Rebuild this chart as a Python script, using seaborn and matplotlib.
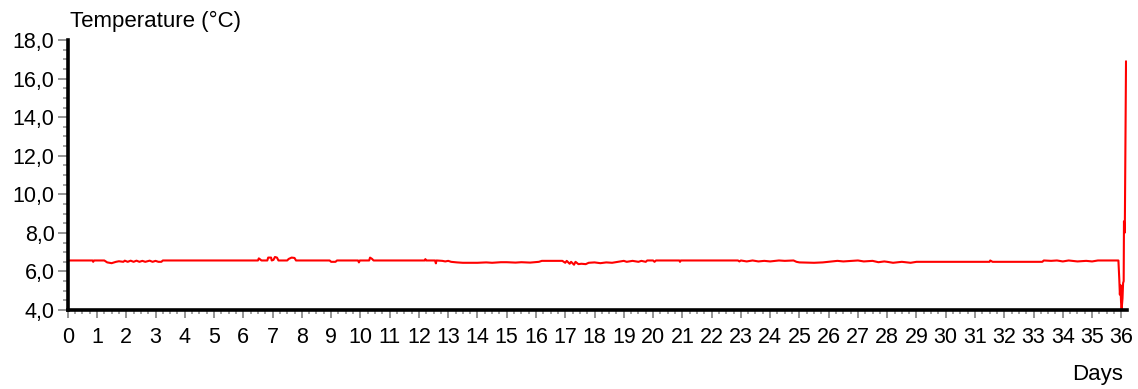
import matplotlib
matplotlib.use("Agg")
import matplotlib.pyplot as plt
from matplotlib.ticker import MultipleLocator, FuncFormatter
import seaborn as sns
import pandas as pd

# Logged temperature (°C) versus elapsed time (days)
days = [
    0.00, 0.85, 0.87, 0.90, 1.25, 1.35, 1.50, 1.65, 1.75, 1.90, 1.95, 2.05, 2.15,
    2.25, 2.35, 2.45, 2.55, 2.65, 2.80, 2.90, 3.00, 3.10, 3.20, 3.25,
    6.50, 6.53, 6.58, 6.62, 6.82, 6.85, 6.95, 6.97, 7.03, 7.08, 7.15, 7.20,
    7.50, 7.55, 7.65, 7.75, 7.80,
    8.95, 9.00, 9.15, 9.20, 9.92, 9.95, 9.98, 10.30, 10.33, 10.40, 10.45,
    12.20, 12.22, 12.25, 12.55, 12.58, 12.60, 12.80, 12.90, 13.00, 13.10, 13.30,
    13.50, 14.00, 14.30, 14.50, 14.80, 15.00, 15.30, 15.50, 15.80, 16.10, 16.20,
    16.90, 17.00, 17.05, 17.15, 17.20, 17.30, 17.35, 17.45, 17.55, 17.70, 17.80,
    18.00, 18.20, 18.40, 18.60, 18.80, 19.00, 19.10, 19.30, 19.50, 19.60, 19.75,
    19.80, 20.00, 20.05, 20.10, 20.90, 20.92, 20.95,
    22.90, 22.95, 23.00, 23.20, 23.40, 23.60, 23.80, 24.00, 24.30, 24.50, 24.80,
    24.90, 25.00, 25.50, 25.80, 26.00, 26.30, 26.50, 26.80, 27.00, 27.20, 27.50,
    27.70, 27.90, 28.00, 28.20, 28.50, 28.80, 29.00, 29.10,
    31.50, 31.52, 31.60, 33.30, 33.35, 33.60, 33.80, 34.00, 34.20, 34.50, 34.80,
    35.00, 35.20, 35.90,
    35.93, 35.95, 35.97, 35.99, 36.01, 36.04, 36.06, 36.08, 36.09, 36.11, 36.12,
    36.16,
]
temps = [
    6.57, 6.57, 6.50, 6.57, 6.57, 6.47, 6.43, 6.50, 6.53, 6.50, 6.56, 6.50, 6.56,
    6.50, 6.56, 6.50, 6.55, 6.50, 6.56, 6.50, 6.55, 6.50, 6.50, 6.57,
    6.57, 6.68, 6.62, 6.57, 6.57, 6.72, 6.72, 6.57, 6.60, 6.75, 6.72, 6.57,
    6.57, 6.65, 6.72, 6.70, 6.57,
    6.57, 6.50, 6.50, 6.57, 6.57, 6.47, 6.57, 6.57, 6.72, 6.65, 6.57,
    6.57, 6.64, 6.57, 6.57, 6.42, 6.57, 6.55, 6.52, 6.55, 6.50, 6.47,
    6.45, 6.45, 6.47, 6.45, 6.48, 6.48, 6.46, 6.48, 6.46, 6.50, 6.55,
    6.55, 6.45, 6.55, 6.40, 6.50, 6.35, 6.50, 6.38, 6.40, 6.38, 6.45,
    6.47, 6.43, 6.47, 6.45, 6.50, 6.55, 6.50, 6.55, 6.50, 6.55, 6.50,
    6.57, 6.57, 6.50, 6.57, 6.57, 6.50, 6.57,
    6.57, 6.52, 6.57, 6.52, 6.57, 6.52, 6.55, 6.52, 6.57, 6.55, 6.57,
    6.50, 6.47, 6.45, 6.47, 6.50, 6.55, 6.52, 6.55, 6.57, 6.52, 6.55,
    6.48, 6.52, 6.50, 6.45, 6.50, 6.45, 6.50, 6.50,
    6.50, 6.57, 6.50, 6.50, 6.57, 6.55, 6.57, 6.52, 6.57, 6.52, 6.55,
    6.52, 6.57, 6.57,
    5.60, 4.80, 5.30, 4.40, 4.05, 4.60, 5.40, 5.50, 8.60, 8.00, 8.40,
    16.90,
]

x_ticks = list(range(0, 37))
y_ticks = [4, 6, 8, 10, 12, 14, 16, 18]

df = pd.DataFrame({"Days": days, "Temperature": temps})

sns.set_style("ticks")
plt.rcParams["font.family"] = ["Liberation Sans", "DejaVu Sans"]
plt.rcParams["text.color"] = "black"

fig = plt.figure(figsize=(11.38, 3.89), dpi=100)
ax = fig.add_axes([0.0595, 0.203, 0.931, 0.694])

sns.lineplot(data=df, x="Days", y="Temperature", ax=ax, color="#ff0000",
             linewidth=1.5, sort=False, estimator=None)

ax.set_xlim(0, 36.2)
ax.set_ylim(4, 18)
ax.set_xticks(x_ticks)
ax.set_yticks(y_ticks)
ax.xaxis.set_minor_locator(MultipleLocator(0.25))
ax.yaxis.set_minor_locator(MultipleLocator(0.5))
ax.yaxis.set_major_formatter(FuncFormatter(lambda v, p: f"{v:.1f}".replace(".", ",")))

for side in ("top", "right"):
    ax.spines[side].set_visible(False)
for side in ("left", "bottom"):
    ax.spines[side].set_linewidth(2.6)
    ax.spines[side].set_color("black")
    ax.spines[side].set_zorder(5)

ax.tick_params(which="major", width=1.3, color="#8c8c8c",
               labelsize=15.5, labelcolor="black")
ax.tick_params(which="minor", width=1.1, color="#8c8c8c")
ax.tick_params(axis="y", which="major", length=7, pad=2.5)
ax.tick_params(axis="y", which="minor", length=3.5)
ax.tick_params(axis="x", which="major", length=5.5, pad=6.5)
ax.tick_params(axis="x", which="minor", length=3)

ax.set_xlabel("")
ax.set_ylabel("")
ax.annotate("Temperature (°C)", xy=(0, 1), xycoords="axes fraction",
            xytext=(2, 9.6), textcoords="offset points",
            ha="left", va="baseline", fontsize=16, color="black")
ax.annotate("Days", xy=(1, 0), xycoords="axes fraction",
            xytext=(-3.3, -50.5), textcoords="offset points",
            ha="right", va="baseline", fontsize=16, color="black")

fig.savefig("out.png", dpi=100, facecolor="white")
